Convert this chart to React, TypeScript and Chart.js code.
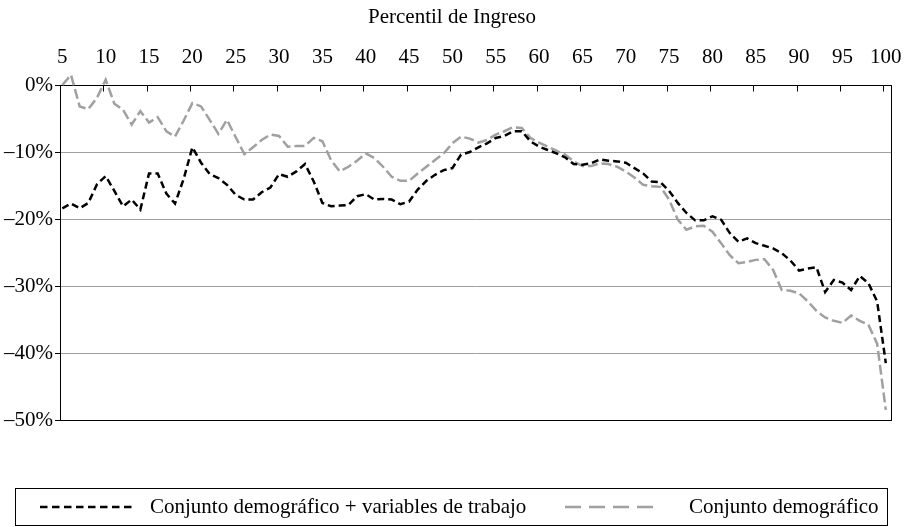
import React, { useEffect, useRef } from 'react';
import { Chart, registerables } from 'chart.js';

Chart.register(...registerables);

// Income percentiles 5..100 (x categories)
const PERCENTILES: number[] = Array.from({ length: 96 }, (_, i) => i + 5);
const X_TICKS = [5, 10, 15, 20, 25, 30, 35, 40, 45, 50, 55, 60, 65, 70, 75, 80, 85, 90, 95, 100];
const Y_TICKS = [-50, -40, -30, -20, -10, 0];

const TITLE = 'Percentil de Ingreso';
const LABEL_TRABAJO = 'Conjunto demográfico + variables de trabajo';
const LABEL_DEMO = 'Conjunto demográfico';

// Conjunto demográfico + variables de trabajo (%), percentiles 5..100
const DEMO_TRABAJO = [
  -18.4, -17.7, -18.4, -17.6, -14.8, -13.6, -15.8, -18.1, -17.1, -18.6,
  -13.2, -13.2, -16.2, -17.7, -14.0, -9.3, -11.6, -13.3, -13.9, -14.9,
  -16.4, -17.1, -17.1, -16.0, -15.3, -13.3, -13.7, -12.9, -11.8, -14.4,
  -17.6, -18.1, -18.0, -17.9, -16.6, -16.3, -17.1, -17.0, -17.1, -17.8,
  -17.4, -15.6, -14.3, -13.4, -12.7, -12.4, -10.4, -10.0, -9.3, -8.7,
  -7.9, -7.6, -6.9, -6.9, -8.4, -9.2, -9.7, -10.2, -10.8, -11.8,
  -11.9, -11.7, -11.1, -11.3, -11.4, -11.6, -12.4, -13.2, -14.4, -14.5,
  -15.8, -17.6, -19.1, -20.2, -20.2, -19.6, -20.1, -22.1, -23.4, -22.9,
  -23.6, -24.0, -24.4, -25.1, -26.2, -27.7, -27.4, -27.2, -30.9, -29.1,
  -29.5, -30.6, -28.5, -29.6, -32.3, -41.5,
];

// Conjunto demográfico (%), percentiles 5..100
const DEMO = [
  0.0, 1.5, -3.2, -3.6, -1.9, 0.8, -2.8, -3.7, -5.9, -3.9,
  -5.6, -4.8, -6.9, -7.7, -5.3, -2.7, -3.2, -5.2, -7.3, -5.2,
  -7.8, -10.3, -9.3, -8.2, -7.4, -7.6, -9.2, -9.1, -9.1, -7.9,
  -8.4, -11.2, -12.9, -12.2, -11.3, -10.2, -10.9, -12.2, -13.7, -14.3,
  -14.3, -13.2, -12.2, -11.2, -10.2, -8.7, -7.7, -8.0, -8.6, -8.2,
  -7.4, -6.9, -6.3, -6.4, -7.9, -8.6, -9.2, -9.8, -10.4, -11.4,
  -12.1, -12.1, -11.7, -11.8, -12.2, -12.9, -13.8, -14.9, -15.1, -15.2,
  -17.1, -20.1, -21.6, -21.1, -21.0, -21.9, -23.6, -25.4, -26.6, -26.4,
  -26.1, -26.0, -27.6, -30.6, -30.7, -31.1, -32.3, -33.7, -34.7, -35.2,
  -35.5, -34.4, -35.2, -35.8, -38.6, -48.5,
];

const FONT = "'Liberation Serif', 'Times New Roman', serif";
const FONT_SIZE = 21;
const GRAY = '#a0a0a0';

const framePlugin = {
  id: 'frame',
  beforeDatasetsDraw(chart: any) {
    const { ctx, chartArea } = chart;
    const L = Math.round(chartArea.left) + 0.5;
    const R = Math.round(chartArea.right) + 0.5;
    const T = Math.round(chartArea.top) + 0.5;
    const B = Math.round(chartArea.bottom) + 0.5;
    ctx.save();
    ctx.strokeStyle = '#000';
    ctx.lineWidth = 1;
    ctx.strokeRect(L, T, R - L, B - T);
    const xs = chart.scales.x;
    ctx.beginPath();
    X_TICKS.forEach((v) => {
      const px = Math.round(xs.getPixelForValue(v - 0.27)) + 0.5;
      ctx.moveTo(px, T);
      ctx.lineTo(px, T + 6);
    });
    ctx.stroke();
    ctx.restore();
  },
};

const legendPlugin = {
  id: 'boxLegend',
  afterDraw(chart: any) {
    const { ctx } = chart;
    const ds = chart.data.datasets;
    ctx.save();
    // title
    ctx.fillStyle = '#000';
    ctx.font = `${FONT_SIZE}px ${FONT}`;
    ctx.textBaseline = 'middle';
    ctx.textAlign = 'center';
    ctx.fillText(TITLE, 452, 17.5);
    // legend box
    ctx.strokeStyle = '#000';
    ctx.lineWidth = 1;
    ctx.strokeRect(15.5, 488.5, 872, 37);
    const items = [
      { x0: 40, x1: 133, tx: 150, dash: [7.5, 4.5], ds: ds[0] },
      { x0: 565, x1: 655, tx: 689, dash: [16, 8], ds: ds[1] },
    ];
    const cy = 507;
    items.forEach((it) => {
      ctx.beginPath();
      ctx.setLineDash(it.dash);
      ctx.strokeStyle = it.ds.borderColor;
      ctx.lineWidth = it.ds.borderWidth;
      ctx.moveTo(it.x0, cy);
      ctx.lineTo(it.x1, cy);
      ctx.stroke();
      ctx.setLineDash([]);
      ctx.fillStyle = '#000';
      ctx.textAlign = 'left';
      ctx.fillText(it.ds.label, it.tx, cy);
    });
    ctx.restore();
  },
};

export default function App() {
  const canvasRef = useRef<HTMLCanvasElement | null>(null);

  useEffect(() => {
    const canvas = canvasRef.current;
    if (!canvas) return;
    const font = { family: FONT, size: FONT_SIZE, weight: 'normal' as const };
    const chart = new Chart(canvas, {
      type: 'line',
      data: {
        datasets: [
          {
            label: LABEL_TRABAJO,
            data: PERCENTILES.map((p, i) => ({ x: p, y: DEMO_TRABAJO[i] })),
            borderColor: '#000',
            borderWidth: 2.5,
            borderDash: [7, 4],
            pointRadius: 0,
            tension: 0,
            fill: false,
            clip: false as any,
          },
          {
            label: LABEL_DEMO,
            data: PERCENTILES.map((p, i) => ({ x: p, y: DEMO[i] })),
            borderColor: GRAY,
            borderWidth: 2.5,
            borderDash: [10, 4],
            pointRadius: 0,
            tension: 0,
            fill: false,
            clip: false as any,
          },
        ],
      },
      options: {
        responsive: false,
        animation: false,
        devicePixelRatio: 1,
        layout: { padding: { left: 0, right: 15, top: 35.2, bottom: 107 } },
        plugins: {
          legend: { display: false },
          tooltip: { enabled: false },
          title: { display: false },
        },
        scales: {
          x: {
            type: 'linear',
            position: 'top',
            min: 4.73,
            max: 100.6,
            afterBuildTicks: (s: any) => {
              s.ticks = X_TICKS.map((v) => ({ value: v }));
            },
            afterFit: (s: any) => {
              s.height = 49.8;
              s.paddingLeft = 0;
              s.paddingRight = 0;
            },
            grid: { display: false, drawTicks: false },
            border: { display: false },
            ticks: {
              color: '#000',
              font,
              padding: 15,
              maxRotation: 0,
              autoSkip: false,
              callback: (v: any) => String(v),
            },
          },
          y: {
            type: 'linear',
            min: -50,
            max: 0,
            afterBuildTicks: (s: any) => {
              s.ticks = Y_TICKS.map((v) => ({ value: v }));
            },
            afterFit: (s: any) => {
              s.width = 60;
              s.paddingTop = 0;
              s.paddingBottom = 0;
            },
            grid: { color: GRAY, lineWidth: 1, drawTicks: true, tickLength: 5, tickColor: '#000' },
            border: { display: false },
            ticks: {
              color: '#000',
              font,
              padding: 2,
              callback: (v: any) => (v === 0 ? '0%' : '\u2013' + Math.abs(v) + '%'),
            },
          },
        },
      } as any,
      plugins: [framePlugin, legendPlugin],
    });
    return () => chart.destroy();
  }, []);

  return (
    <div style={{ position: 'fixed', left: 0, top: 0, width: 906, height: 527, background: '#fff' }}>
      <canvas ref={canvasRef} width={906} height={527} style={{ display: 'block' }} />
    </div>
  );
}
